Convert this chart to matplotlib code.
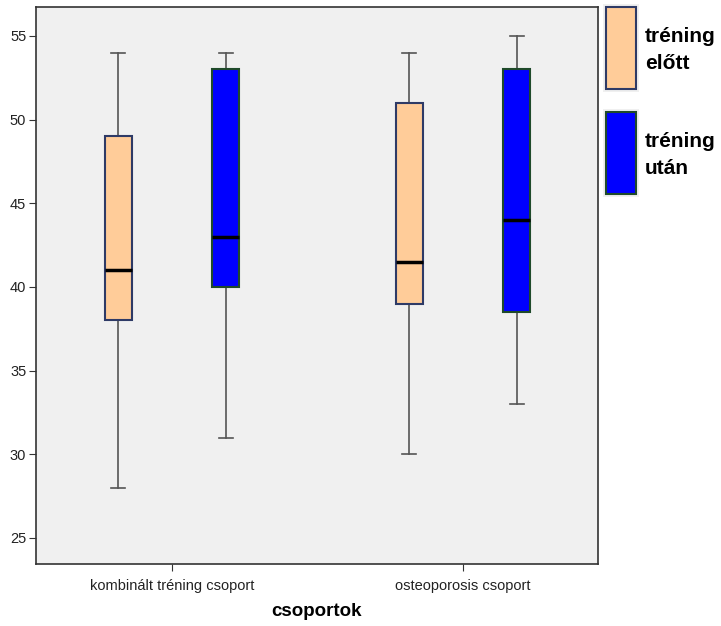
import matplotlib
matplotlib.use("Agg")
import matplotlib.pyplot as plt
from matplotlib.patches import Rectangle

plt.rcParams['font.family'] = ['Liberation Sans', 'DejaVu Sans']

groups = ["kombinált tréning csoport", "osteoporosis csoport"]
series = ["tréning\nelőtt", "tréning\nután"]
# five-number summaries per group: (low whisker, Q1, median, Q3, high whisker)
elott = [(28, 38, 41, 49, 54), (30, 39, 41.5, 51, 54)]
utan = [(31, 40, 43, 53, 54), (33, 38.5, 44, 53, 55)]
fill_colors = ["#FFCC99", "#0000FF"]
edge_colors = ["#2E3A66", "#1F4A2A"]
yticks = [25, 30, 35, 40, 45, 50, 55]

fig = plt.figure(figsize=(7.21, 6.26), dpi=100)
ax = fig.add_axes([0.0499, 0.099, 0.7795, 0.890])
ax.set_facecolor("#F0F0F0")

offset = 0.185
width = 0.093
cap = 0.048
for si, data in enumerate([elott, utan]):
    for gi, (lo, q1, med, q3, hi) in enumerate(data):
        x = gi + 1 + (offset if si else -offset)
        # whiskers and caps
        ax.plot([x, x], [lo, q1], color="#555555", lw=1.2, zorder=2)
        ax.plot([x, x], [q3, hi], color="#555555", lw=1.2, zorder=2)
        ax.plot([x - cap / 2, x + cap / 2], [lo, lo], color="#555555", lw=1.2, zorder=2)
        ax.plot([x - cap / 2, x + cap / 2], [hi, hi], color="#555555", lw=1.2, zorder=2)
        ax.add_patch(Rectangle((x - width / 2, q1), width, q3 - q1,
                               facecolor=fill_colors[si], edgecolor=edge_colors[si],
                               lw=1.5, zorder=3))
        ax.plot([x - width / 2, x + width / 2], [med, med], color="black", lw=2.5,
                zorder=4, solid_capstyle="butt")

ax.set_xlim(0.533, 2.464)
ax.set_ylim(23.44, 56.74)
ax.set_yticks(yticks)
ax.set_xticks([1, 2])
ax.set_xticklabels(groups, fontsize=10.5, color="#222222")
ax.tick_params(axis="y", labelsize=10.5, labelcolor="#222222", length=5, color="#333333", pad=2)
ax.tick_params(axis="x", length=5, color="#333333", pad=6)
for s in ax.spines.values():
    s.set_color("#333333")
    s.set_linewidth(1.2)
ax.set_xlabel("csoportok", fontsize=13.5, fontweight="bold", labelpad=7)

# legend drawn beside the plot area
for top in [4, 109]:
    fig.patches.append(Rectangle((603 / 721, 1 - (top + 88) / 626), 36 / 721, 88 / 626,
                                 transform=fig.transFigure, facecolor="#F0F0F0",
                                 edgecolor="none", zorder=0))
legend_tops = [7, 112]
for si, top in enumerate(legend_tops):
    fig.patches.append(Rectangle((606 / 721, 1 - (top + 82) / 626), 30 / 721, 82 / 626,
                                 transform=fig.transFigure, facecolor=fill_colors[si],
                                 edgecolor=edge_colors[si], lw=1.5, zorder=1))
    fig.text(645 / 721, 1 - (top + 43) / 626, series[si], fontsize=15,
             fontweight="bold", va="center", ha="left", linespacing=1.55)

fig.savefig("out.png", dpi=100)
